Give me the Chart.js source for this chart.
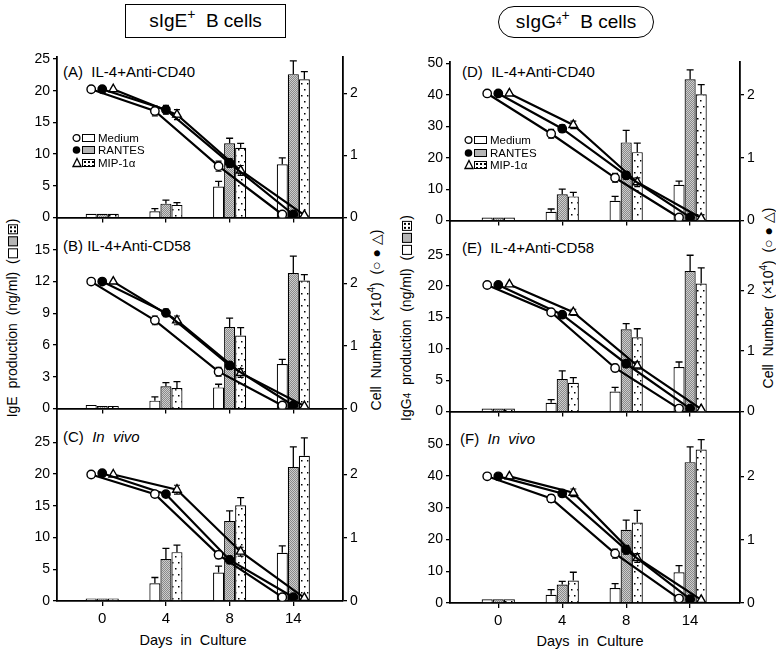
<!DOCTYPE html>
<html><head><meta charset="utf-8">
<title>sIgE+ and sIgG4+ B cells</title>
<script src="https://cdn.jsdelivr.net/npm/chart.js@4.4.1/dist/chart.umd.min.js"></script>
<style>
html,body{margin:0;padding:0;background:#fff;}
#wrap{position:relative;width:776px;height:654px;overflow:hidden;font-family:"Liberation Sans",Arial,Helvetica,sans-serif;color:#000;}
#wrap canvas{position:absolute;}
.t{position:absolute;white-space:pre;line-height:18px;height:18px;}
.pl{font-size:15px;}
.rot{position:absolute;white-space:pre;transform:translate(-50%,-50%) rotate(-90deg);font-size:14px;line-height:16px;}
.tbox{position:absolute;border:1.5px solid #000;box-sizing:border-box;display:flex;align-items:center;justify-content:center;font-size:19px;white-space:pre;}
.sw{display:inline-block;width:10px;height:10px;border:1.3px solid #000;box-sizing:border-box;vertical-align:-1px;margin:0 1px;background:#fff;}
.sw.r{background:#b5b5b5;}
.sw.m{background:radial-gradient(circle,#000 0 0.8px,transparent 1.2px) 0 0/4px 4px,#fff;}
.leg{position:absolute;font-size:11.5px;line-height:12px;height:12px;white-space:pre;}
.leg svg{position:absolute;top:0;}
.lr{position:absolute;top:2px;width:13px;height:8px;border:1.3px solid #000;box-sizing:border-box;background:#fff;}
.lr.r{background:#b5b5b5;}
.lr.m{background:radial-gradient(circle,#000 0 0.8px,transparent 1.2px) 0 0/4px 4px,#fff;}
.sp{font-size:14px;position:relative;top:-7px;}
.sp2{font-size:10px;position:relative;top:-6px;}
</style></head>
<body><div id="wrap">
<div class="tbox" style="left:125px;top:4px;width:161px;height:34px;">sIgE<span class="sp">+</span>  B cells</div>
<div class="tbox" style="left:498px;top:6px;width:156px;height:32px;border-radius:16px;">sIgG<span style="font-size:10px;position:relative;top:-1px;">4</span><span class="sp">+</span>  B cells</div>

<div class="t pl" style="left:63px;top:63px;">(A)  IL-4+Anti-CD40</div>
<div class="t pl" style="left:63px;top:237px;">(B) IL-4+Anti-CD58</div>
<div class="t pl" style="left:63px;top:428px;">(C)  <i>In  vivo</i></div>
<div class="t pl" style="left:462px;top:63px;">(D)  IL-4+Anti-CD40</div>
<div class="t pl" style="left:462px;top:239px;">(E)  IL-4+Anti-CD58</div>
<div class="t pl" style="left:460px;top:430px;">(F)  <i>In  vivo</i></div>

<div class="rot" style="left:12px;top:318px;">IgE  production  (ng/ml)  (<span class="sw"></span><span class="sw r"></span><span class="sw m"></span>)</div>
<div class="rot" style="left:377px;top:320px;">Cell  Number  (×10<span class="sp2">4</span>)  (○ ● △)</div>
<div class="rot" style="left:407px;top:318px;">IgG<span style="font-size:10px;">4</span>  production  (ng/ml)  (<span class="sw"></span><span class="sw r"></span><span class="sw m"></span>)</div>
<div class="rot" style="left:769px;top:298px;">Cell  Number  (×10<span class="sp2">4</span>)  (○ ● △)</div>

<div class="t" style="left:193px;top:631px;transform:translateX(-50%);font-size:14.5px;">Days  in  Culture</div>
<div class="t" style="left:590px;top:632px;transform:translateX(-50%);font-size:14.5px;">Days  in  Culture</div>
</div>
<script>
// ---------------- data ----------------
const days = ['0', '4', '8', '14'];
const seriesNames = ['Medium', 'RANTES', 'MIP-1α'];
const cellTicks = [0, 1, 2];

// (A) sIgE+ B cells, IL-4 + anti-CD40
const ticksA = [0, 5, 10, 15, 20, 25];
const prodA_medium = [0.6, 1.0, 4.9, 8.4];
const prodA_rantes = [0.6, 2.2, 11.7, 22.6];
const prodA_mip    = [0.6, 2.0, 11.0, 21.8];
const prodA_mediumErr = [0, 0.4, 0.8, 1.0];
const prodA_rantesErr = [0, 0.55, 0.8, 2.1];
const prodA_mipErr    = [0, 0.35, 0.7, 1.2];
const cellA_medium = [2.07, 1.72, 0.83, 0.05];
const cellA_rantes = [2.07, 1.74, 0.88, 0.05];
const cellA_mip    = [2.07, 1.66, 0.76, 0.04];
const cellA_mediumErr = [0, 0.08, 0.08, 0];
const cellA_rantesErr = [0, 0.07, 0.07, 0];
const cellA_mipErr    = [0, 0.08, 0.08, 0];

// (B) sIgE+ B cells, IL-4 + anti-CD58
const ticksB = [0, 3, 6, 9, 12, 15];
const prodB_medium = [0.35, 0.75, 2.0, 4.2];
const prodB_rantes = [0.25, 2.1, 7.7, 12.8];
const prodB_mip    = [0.25, 1.95, 6.9, 12.1];
const prodB_mediumErr = [0, 0.35, 0.3, 0.45];
const prodB_rantesErr = [0, 0.35, 0.85, 1.6];
const prodB_mipErr    = [0, 0.6, 0.75, 0.55];
const cellB_medium = [2.03, 1.41, 0.59, 0.05];
const cellB_rantes = [2.03, 1.53, 0.69, 0.05];
const cellB_mip    = [2.03, 1.41, 0.57, 0.04];
const cellB_mediumErr = [0, 0.07, 0.07, 0];
const cellB_rantesErr = [0, 0.06, 0.06, 0];
const cellB_mipErr    = [0, 0.07, 0.07, 0];

// (C) sIgE+ B cells, in vivo
const ticksC = [0, 5, 10, 15, 20, 25];
const prodC_medium = [0.4, 2.8, 4.5, 7.6];
const prodC_rantes = [0.4, 6.6, 12.6, 21.1];
const prodC_mip    = [0.4, 7.7, 15.1, 22.9];
const prodC_mediumErr = [0, 0.9, 1.0, 1.1];
const prodC_rantesErr = [0, 1.7, 1.6, 3.2];
const prodC_mipErr    = [0, 1.1, 1.2, 2.8];
const cellC_medium = [2.0, 1.69, 0.73, 0.06];
const cellC_rantes = [2.02, 1.69, 0.65, 0.06];
const cellC_mip    = [2.0, 1.76, 0.78, 0.05];
const cellC_mediumErr = [0, 0.05, 0.06, 0];
const cellC_rantesErr = [0, 0.05, 0.06, 0];
const cellC_mipErr    = [0, 0.07, 0.07, 0];

// (D) sIgG4+ B cells, IL-4 + anti-CD40
const ticksD = [0, 10, 20, 30, 40, 50];
const prodD_medium = [1.0, 2.8, 6.3, 11.4];
const prodD_rantes = [1.0, 8.4, 24.9, 45.0];
const prodD_mip    = [1.0, 7.7, 21.8, 40.2];
const prodD_mediumErr = [0, 0.9, 1.4, 1.2];
const prodD_rantesErr = [0, 1.6, 3.8, 3.0];
const prodD_mipErr    = [0, 1.3, 2.9, 3.1];
const cellD_medium = [2.02, 1.38, 0.68, 0.05];
const cellD_rantes = [2.02, 1.46, 0.72, 0.05];
const cellD_mip    = [2.02, 1.52, 0.61, 0.04];
const cellD_mediumErr = [0, 0.07, 0.07, 0];
const cellD_rantesErr = [0, 0.06, 0.06, 0];
const cellD_mipErr    = [0, 0.06, 0.07, 0];

// (E) sIgG4+ B cells, IL-4 + anti-CD58
const ticksE = [0, 5, 10, 15, 20, 25];
const prodE_medium = [0.5, 1.4, 3.2, 7.1];
const prodE_rantes = [0.5, 5.2, 13.1, 22.4];
const prodE_mip    = [0.5, 4.6, 11.85, 20.4];
const prodE_mediumErr = [0, 0.5, 0.65, 0.8];
const prodE_rantesErr = [0, 1.3, 0.9, 2.5];
const prodE_mipErr    = [0, 0.8, 1.35, 2.5];
const cellE_medium = [2.09, 1.64, 0.72, 0.05];
const cellE_rantes = [2.09, 1.60, 0.79, 0.05];
const cellE_mip    = [2.10, 1.64, 0.76, 0.04];
const cellE_mediumErr = [0, 0.05, 0.06, 0];
const cellE_rantesErr = [0, 0.05, 0.06, 0];
const cellE_mipErr    = [0, 0.05, 0.06, 0];

// (F) sIgG4+ B cells, in vivo
const ticksF = [0, 10, 20, 30, 40, 50];
const prodF_medium = [1.2, 2.6, 4.7, 9.7];
const prodF_rantes = [1.2, 5.8, 23.1, 44.4];
const prodF_mip    = [1.2, 7.1, 25.4, 48.4];
const prodF_mediumErr = [0, 1.6, 1.4, 2.1];
const prodF_rantesErr = [0, 1.0, 3.0, 4.8];
const prodF_mipErr    = [0, 2.6, 3.8, 3.1];
const cellF_medium = [2.0, 1.65, 0.78, 0.07];
const cellF_rantes = [2.0, 1.73, 0.84, 0.06];
const cellF_mip    = [2.0, 1.74, 0.71, 0.05];
const cellF_mediumErr = [0, 0.06, 0.07, 0];
const cellF_rantesErr = [0, 0.05, 0.07, 0];
const cellF_mipErr    = [0, 0.06, 0.07, 0];

// ---------------- styling ----------------
Chart.defaults.font.family = '"Liberation Sans", Arial, Helvetica, sans-serif';
Chart.defaults.font.size = 14;
Chart.defaults.color = '#000';

function makePattern(kind) {
  const pc = document.createElement('canvas');
  const g = pc.getContext('2d');
  if (kind === 'rantes') {
    pc.width = 2; pc.height = 2;
    g.fillStyle = '#cdcdcd'; g.fillRect(0, 0, 2, 2);
    g.fillStyle = '#8a8a8a'; g.fillRect(0, 0, 1, 1); g.fillRect(1, 1, 1, 1);
  } else {
    pc.width = 6; pc.height = 12;
    g.fillStyle = '#fff'; g.fillRect(0, 0, 6, 12);
    g.fillStyle = '#000';
    g.fillRect(1, 2, 1.5, 1.5);
    g.fillRect(4, 8, 1.5, 1.5);
  }
  return document.createElement('canvas').getContext('2d').createPattern(pc, 'repeat');
}
const fills = ['#ffffff', makePattern('rantes'), makePattern('mip')];
const CAT_PCT = 0.52;
const pointOffsets = [-CAT_PCT / 3, 0, CAT_PCT / 3];

const errorBars = {
  id: 'errorBars',
  beforeDatasetDraw(chart, args) {
    const ds = chart.data.datasets[args.index];
    if (!ds.errors || ds.type !== 'line') return;
    const ys = chart.scales[ds.yAxisID];
    const ctx = chart.ctx;
    ctx.save();
    ctx.strokeStyle = '#000'; ctx.lineWidth = 1.2;
    args.meta.data.forEach((el, i) => {
      const e = ds.errors[i];
      if (!e) return;
      const v = ds.data[i].y;
      const top = ys.getPixelForValue(v + e);
      const bot = ys.getPixelForValue(v - e);
      ctx.beginPath();
      ctx.moveTo(el.x, bot); ctx.lineTo(el.x, top);
      ctx.moveTo(el.x - 3, top); ctx.lineTo(el.x + 3, top);
      ctx.moveTo(el.x - 3, bot); ctx.lineTo(el.x + 3, bot);
      ctx.stroke();
    });
    ctx.restore();
  },
  afterDatasetDraw(chart, args) {
    const ds = chart.data.datasets[args.index];
    if (!ds.errors || ds.type !== 'bar') return;
    const ys = chart.scales[ds.yAxisID];
    const ctx = chart.ctx;
    ctx.save();
    ctx.strokeStyle = '#000'; ctx.lineWidth = 1.3;
    args.meta.data.forEach((el, i) => {
      const e = ds.errors[i];
      if (!e) return;
      const v = ds.data[i].y;
      const top = ys.getPixelForValue(v + e);
      ctx.beginPath();
      ctx.moveTo(el.x, el.y); ctx.lineTo(el.x, top);
      ctx.moveTo(el.x - 3.5, top); ctx.lineTo(el.x + 3.5, top);
      ctx.stroke();
    });
    ctx.restore();
  }
};

const wrap = document.getElementById('wrap');

function makePanel(p) {
  const padL = 45, padR = 32, padT = 12, padB = p.showX ? 34 : 10;
  const W = p.area.r - p.area.l + padL + padR;
  const H = p.area.b - p.area.t + padT + padB;
  const cv = document.createElement('canvas');
  cv.width = W; cv.height = H;
  cv.style.left = (p.area.l - padL) + 'px';
  cv.style.top = (p.area.t - padT) + 'px';
  cv.style.width = W + 'px'; cv.style.height = H + 'px';
  wrap.appendChild(cv);

  const datasets = [];
  for (let s = 0; s < 3; s++) {
    datasets.push({
      type: 'bar', label: seriesNames[s],
      data: days.map((d, i) => ({ x: i, y: p.prod[s][i] })),
      errors: p.prodErr[s],
      backgroundColor: fills[s], borderColor: '#000', borderWidth: 1.2,
      borderSkipped: 'start',
      categoryPercentage: CAT_PCT, barPercentage: 1.0,
      xAxisID: 'x', yAxisID: 'yL', order: 2
    });
  }
  for (let s = 0; s < 3; s++) {
    datasets.push({
      type: 'line', label: seriesNames[s],
      data: days.map((d, i) => ({ x: i + pointOffsets[s], y: p.cells[s][i] })),
      errors: p.cellErr[s],
      borderColor: '#000', borderWidth: 2.2, tension: 0, fill: false,
      pointStyle: s === 2 ? 'triangle' : 'circle',
      pointRadius: s === 2 ? 5 : 4.2,
      pointBackgroundColor: s === 1 ? '#000' : '#fff',
      pointBorderColor: '#000', pointBorderWidth: 1.4,
      xAxisID: 'x', yAxisID: 'yR', order: 1
    });
  }

  const axisCommon = {
    grid: { display: true, drawOnChartArea: false, drawTicks: true, tickLength: 4, color: '#000', lineWidth: 1.3 },
    border: { display: true, color: '#000', width: 1.8 }
  };

  new Chart(cv, {
    type: 'bar',
    data: { datasets },
    options: {
      responsive: false, animation: false, events: [],
      layout: { padding: { top: padT, left: 0, right: 0, bottom: 0 } },
      plugins: { legend: { display: false }, tooltip: { enabled: false } },
      scales: {
        x: Object.assign({}, axisCommon, {
          type: 'linear', position: 'bottom', offset: false,
          min: p.xMin, max: p.xMax,
          grid: Object.assign({}, axisCommon.grid, { offset: false, tickLength: 5 }),
          afterBuildTicks: (sc) => { sc.ticks = days.map((d, i) => ({ value: i })); },
          ticks: { display: p.showX, padding: 4, font: { size: 15 }, callback: (v) => days[v] },
          afterFit: (sc) => { sc.height = padB; }
        }),
        yL: Object.assign({}, axisCommon, {
          type: 'linear', position: 'left', min: 0, max: p.leftMax,
          afterBuildTicks: (sc) => { sc.ticks = p.leftTicks.map(v => ({ value: v })); },
          ticks: { padding: 3, font: { size: 14 } },
          afterFit: (sc) => { sc.width = padL; }
        }),
        yR: Object.assign({}, axisCommon, {
          type: 'linear', position: 'right', min: 0, max: p.rightMax,
          afterBuildTicks: (sc) => { sc.ticks = cellTicks.map(v => ({ value: v })); },
          ticks: { padding: 3, font: { size: 14 } },
          afterFit: (sc) => { sc.width = padR; }
        })
      }
    },
    plugins: [errorBars]
  });
}

const LX = { l: 57, r: 343 }, RX = { l: 450, r: 740 };
const panels = [
  { area: { l: LX.l, r: LX.r, t: 57, b: 219 }, xMin: -0.71, xMax: 3.78, leftMax: 25.3, rightMax: 2.59, leftTicks: ticksA, showX: false,
    prod: [prodA_medium, prodA_rantes, prodA_mip], prodErr: [prodA_mediumErr, prodA_rantesErr, prodA_mipErr],
    cells: [cellA_medium, cellA_rantes, cellA_mip], cellErr: [cellA_mediumErr, cellA_rantesErr, cellA_mipErr] },
  { area: { l: LX.l, r: LX.r, t: 219, b: 410 }, xMin: -0.71, xMax: 3.78, leftMax: 17.9, rightMax: 3.03, leftTicks: ticksB, showX: false,
    prod: [prodB_medium, prodB_rantes, prodB_mip], prodErr: [prodB_mediumErr, prodB_rantesErr, prodB_mipErr],
    cells: [cellB_medium, cellB_rantes, cellB_mip], cellErr: [cellB_mediumErr, cellB_rantesErr, cellB_mipErr] },
  { area: { l: LX.l, r: LX.r, t: 410, b: 601 }, xMin: -0.71, xMax: 3.78, leftMax: 30.1, rightMax: 3.02, leftTicks: ticksC, showX: true,
    prod: [prodC_medium, prodC_rantes, prodC_mip], prodErr: [prodC_mediumErr, prodC_rantesErr, prodC_mipErr],
    cells: [cellC_medium, cellC_rantes, cellC_mip], cellErr: [cellC_mediumErr, cellC_rantesErr, cellC_mipErr] },
  { area: { l: RX.l, r: RX.r, t: 62, b: 222 }, xMin: -0.755, xMax: 3.78, leftMax: 50.5, rightMax: 2.52, leftTicks: ticksD, showX: false,
    prod: [prodD_medium, prodD_rantes, prodD_mip], prodErr: [prodD_mediumErr, prodD_rantesErr, prodD_mipErr],
    cells: [cellD_medium, cellD_rantes, cellD_mip], cellErr: [cellD_mediumErr, cellD_rantesErr, cellD_mipErr] },
  { area: { l: RX.l, r: RX.r, t: 222, b: 413 }, xMin: -0.755, xMax: 3.78, leftMax: 30.2, rightMax: 3.13, leftTicks: ticksE, showX: false,
    prod: [prodE_medium, prodE_rantes, prodE_mip], prodErr: [prodE_mediumErr, prodE_rantesErr, prodE_mipErr],
    cells: [cellE_medium, cellE_rantes, cellE_mip], cellErr: [cellE_mediumErr, cellE_rantesErr, cellE_mipErr] },
  { area: { l: RX.l, r: RX.r, t: 413, b: 603 }, xMin: -0.755, xMax: 3.78, leftMax: 59.9, rightMax: 3.0, leftTicks: ticksF, showX: true,
    prod: [prodF_medium, prodF_rantes, prodF_mip], prodErr: [prodF_mediumErr, prodF_rantesErr, prodF_mipErr],
    cells: [cellF_medium, cellF_rantes, cellF_mip], cellErr: [cellF_mediumErr, cellF_rantesErr, cellF_mipErr] }
];
panels.forEach(makePanel);

// ---------------- legends (panels A and D) ----------------
function addLegend(x0, ys) {
  const marks = [
    '<svg width="9" height="12"><circle cx="4.5" cy="6" r="3.4" fill="#fff" stroke="#000" stroke-width="1.3"/></svg>',
    '<svg width="9" height="12"><circle cx="4.5" cy="6" r="3.8" fill="#000"/></svg>',
    '<svg width="10" height="12"><polygon points="5,1.5 9,9.5 1,9.5" fill="#fff" stroke="#000" stroke-width="1.3"/></svg>'
  ];
  const rc = ['', ' r', ' m'];
  for (let s = 0; s < 3; s++) {
    const d = document.createElement('div');
    d.className = 'leg';
    d.style.left = x0 + 'px'; d.style.top = (ys[s] - 6) + 'px';
    d.innerHTML = marks[s].replace('<svg', '<svg style="left:0"') +
      '<span class="lr' + rc[s] + '" style="left:10px"></span>' +
      '<span style="position:absolute;left:26px;top:0;">' + seriesNames[s] + '</span>';
    wrap.appendChild(d);
  }
}
addLegend(72, [137.7, 150.2, 162.7]);
addLegend(464, [140, 152.5, 165]);
</script>
</body></html>
